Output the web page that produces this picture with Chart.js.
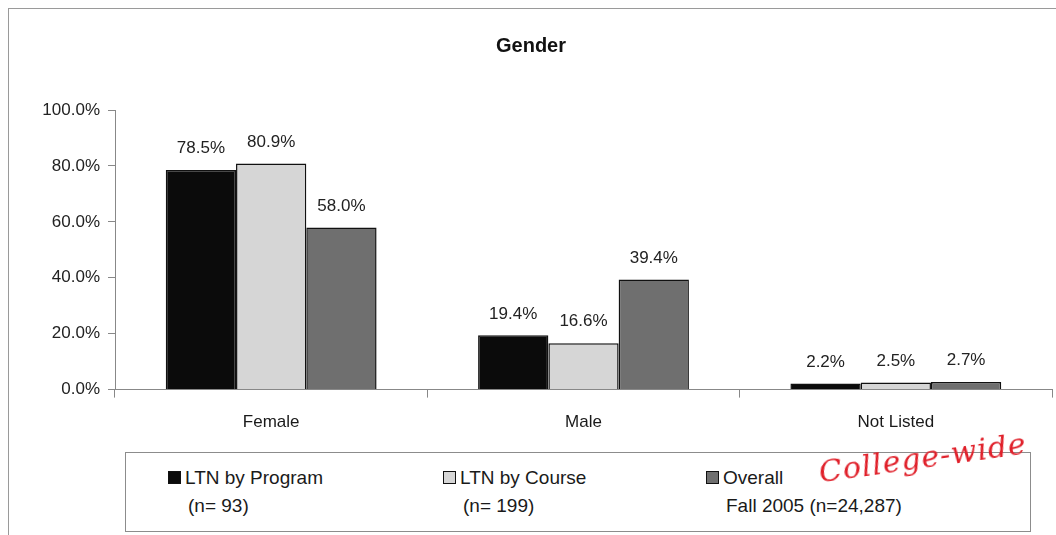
<!DOCTYPE html>
<html>
<head>
<meta charset="utf-8">
<script src="https://cdn.jsdelivr.net/npm/chart.js@4/dist/chart.umd.min.js"></script>
<style>
  html, body { margin: 0; padding: 0; background: #fff; }
  #wrap { position: relative; width: 1056px; height: 535px; font-family: "Liberation Sans", Arial, sans-serif; }
  #frame { position: absolute; left: 8px; top: 8px; width: 1060px; height: 540px; border: 1px solid #9a9a9a; }
  #legend { position: absolute; left: 125px; top: 452px; width: 904px; height: 78px; border: 1px solid #8c8c8c; background: #fff; }
  .item { position: absolute; top: 11px; font-size: 19px; color: #1a1a1a; line-height: 28px; }
  .box { display: inline-block; width: 11px; height: 11px; border: 1px solid #111; margin-right: 4px; vertical-align: 0px; }
  .sub { padding-left: 20px; }
  #note { position: absolute; left: 818px; top: 440px; color: #e0202a; font-size: 30px; font-style: italic; font-family: "DejaVu Serif", serif; transform: rotate(-8deg); letter-spacing: 1px; }
</style>
</head>
<body>
<div id="wrap">
  <div id="frame"></div>
  <canvas id="chart" width="1056" height="535"></canvas>
  <div id="legend"></div>
  <div id="note">College-wide</div>
</div>
<script>
const categorias = ['Female', 'Male', 'Not Listed'];
const ltnPrograma = [78.5, 19.4, 2.2];
const ltnCurso = [80.9, 16.6, 2.5];
const general = [58.0, 39.4, 2.7];
const etiquetasSerie = [
  ['LTN by Program', '(n= 93)'],
  ['LTN by Course', '(n= 199)'],
  ['Overall', 'Fall 2005 (n=24,287)']
];
const ticksY = [0, 20, 40, 60, 80, 100];
const colores = ['#0b0b0b', '#d6d6d6', '#6f6f6f'];

// etiquetas de valor encima de cada barra
const etiquetasValor = {
  id: 'etiquetasValor',
  afterDatasetsDraw(chart) {
    const ctx = chart.ctx;
    ctx.save();
    ctx.font = '17px "Liberation Sans", Arial, sans-serif';
    ctx.fillStyle = '#222';
    ctx.textAlign = 'center';
    ctx.textBaseline = 'bottom';
    chart.data.datasets.forEach((ds, i) => {
      chart.getDatasetMeta(i).data.forEach((bar, j) => {
        ctx.fillText(ds.data[j].toFixed(1) + '%', bar.x, bar.y - 13);
      });
    });
    ctx.restore();
  }
};

const ctx = document.getElementById('chart').getContext('2d');
const chart = new Chart(ctx, {
  type: 'bar',
  data: {
    labels: categorias,
    datasets: [
      { label: etiquetasSerie[0], data: ltnPrograma, backgroundColor: colores[0] },
      { label: etiquetasSerie[1], data: ltnCurso, backgroundColor: colores[1] },
      { label: etiquetasSerie[2], data: general, backgroundColor: colores[2] }
    ].map(ds => Object.assign(ds, {
      borderColor: '#111', borderWidth: 1.5, borderSkipped: 'bottom',
      categoryPercentage: 0.675, barPercentage: 1.0
    }))
  },
  options: {
    responsive: false,
    animation: false,
    layout: { padding: { left: 10, right: 4, top: 0, bottom: 87 } },
    plugins: {
      legend: { display: false },
      tooltip: { enabled: false },
      title: {
        display: true,
        text: 'Gender',
        color: '#111',
        font: { family: '"Liberation Sans", Arial, sans-serif', size: 20, weight: 'bold' },
        padding: { top: 34, bottom: 52 }
      }
    },
    scales: {
      x: {
        offset: true,
        grid: { offset: true, drawOnChartArea: false, drawTicks: true, tickLength: 8, color: '#888' },
        border: { display: true, color: '#888' },
        ticks: { color: '#1a1a1a', padding: 15, font: { family: '"Liberation Sans", Arial, sans-serif', size: 17 } }
      },
      y: {
        min: 0,
        max: 100,
        afterFit: s => { s.width = 105; },
        afterBuildTicks: s => { s.ticks = ticksY.map(v => ({ value: v })); },
        grid: { drawOnChartArea: false, drawTicks: true, tickLength: 7, color: '#888' },
        border: { display: true, color: '#888' },
        ticks: {
          color: '#222',
          padding: 8,
          font: { family: '"Liberation Sans", Arial, sans-serif', size: 17 },
          callback: v => v.toFixed(1) + '%'
        }
      }
    }
  },
  plugins: [etiquetasValor]
});

// leyenda en HTML con dos lineas por serie
const posiciones = [42, 317, 580];
const leyenda = document.getElementById('legend');
chart.data.datasets.forEach((ds, i) => {
  const div = document.createElement('div');
  div.className = 'item';
  div.style.left = posiciones[i] + 'px';
  div.innerHTML = `<span class="box" style="background:${ds.backgroundColor}"></span>${ds.label[0]}<br><span class="sub">${ds.label[1]}</span>`;
  leyenda.appendChild(div);
});
</script>
</body>
</html>
